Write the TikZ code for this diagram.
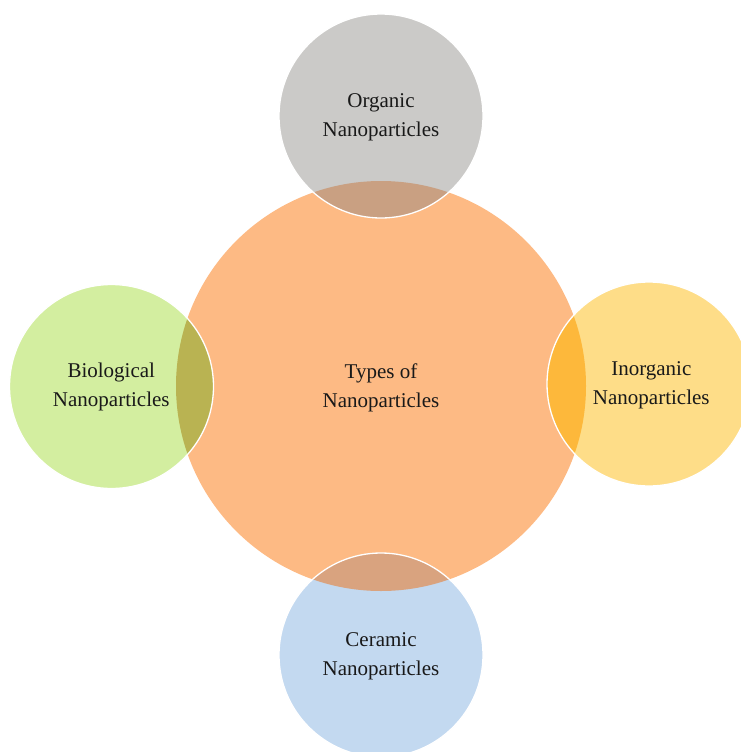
\documentclass[tikz,border=0pt]{standalone}
\usepackage{fontspec}
\setmainfont{Liberation Serif}
\definecolor{hubfill}{HTML}{FDBA84}
\definecolor{orgfill}{HTML}{CBCAC8}
\definecolor{biofill}{HTML}{D3EEA0}
\definecolor{inofill}{HTML}{FEDD88}
\definecolor{cerfill}{HTML}{C3D9F0}
\definecolor{orgover}{HTML}{C9A082}
\definecolor{bioover}{HTML}{B9B352}
\definecolor{inoover}{HTML}{FDB83B}
\definecolor{cerover}{HTML}{D9A37F}
\tikzset{
  hubcircle/.style={circle, inner sep=0pt, minimum size=410pt, fill=hubfill},
  satcircle/.style={circle, inner sep=0pt, minimum size=204pt},
  rim/.style={draw=white, line width=1.3pt},
  label/.style={align=center, font=\fontsize{21}{29}\selectfont, text=black!90, inner sep=0pt}
}
\begin{document}
\begin{tikzpicture}[x=1pt,y=-1pt]
\useasboundingbox (0,0) rectangle (741,752);
\clip (0,0) rectangle (741,752);
% circles
\node[hubcircle] (hub) at (381,386) {};
\node[satcircle, fill=orgfill] (org) at (381,116) {};
\node[satcircle, fill=biofill] (bio) at (111.5,386.5) {};
\node[satcircle, fill=inofill] (ino) at (649,384) {};
\node[satcircle, fill=cerfill] (cer) at (381,655) {};
% overlaps
\begin{scope}
  \clip (hub.center) circle (205pt);
  \fill[orgover] (org.center) circle (102pt);
  \fill[bioover] (bio.center) circle (102pt);
  \fill[inoover] (ino.center) circle (102pt);
  \fill[cerover] (cer.center) circle (102pt);
\end{scope}
% white rims of the satellite circles
\draw[rim] (org.center) circle (102pt);
\draw[rim] (bio.center) circle (102pt);
\draw[rim] (ino.center) circle (102pt);
\draw[rim] (cer.center) circle (102pt);
% labels
\node[label] (hubtxt) at (381,387.7) {Types of\\Nanoparticles};
\node[label] (orgtxt) at (381,117) {Organic\\Nanoparticles};
\node[label] (biotxt) at (111.3,387) {Biological\\Nanoparticles};
\node[label] (inotxt) at (651.3,385.7) {Inorganic\\Nanoparticles};
\node[label] (certxt) at (381,656.4) {Ceramic\\Nanoparticles};
\end{tikzpicture}
\end{document}
